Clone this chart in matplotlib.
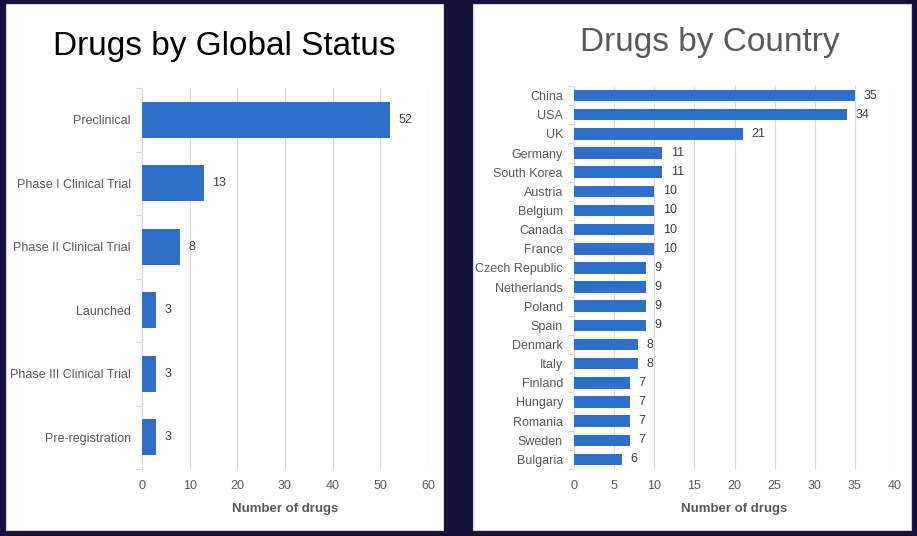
import matplotlib
matplotlib.use("Agg")
import matplotlib.pyplot as plt
from matplotlib.patches import Rectangle

plt.rcParams['font.family'] = ['Liberation Sans', 'DejaVu Sans']

# data
status_labels = ["Preclinical", "Phase I Clinical Trial", "Phase II Clinical Trial",
                 "Launched", "Phase III Clinical Trial", "Pre-registration"]
status_counts = [52, 13, 8, 3, 3, 3]

country_labels = ["China", "USA", "UK", "Germany", "South Korea", "Austria", "Belgium",
                  "Canada", "France", "Czech Republic", "Netherlands", "Poland", "Spain",
                  "Denmark", "Italy", "Finland", "Hungary", "Romania", "Sweden", "Bulgaria"]
country_counts = [35, 34, 21, 11, 11, 10, 10, 10, 10, 9, 9, 9, 9, 8, 8, 7, 7, 7, 7, 6]

bar_color = "#2E6FCB"
grid_color = "#D9D9D9"
text_color = "#595959"
W, H = 917, 536

fig = plt.figure(figsize=(W / 100, H / 100), dpi=100)
fig.patch.set_facecolor("#14113A")

# white panels (behind the axes)
for x0, x1 in [(6, 443), (473, 911)]:
    fig.patches.append(Rectangle((x0 / W, 1 - 530 / H), (x1 - x0) / W, 526 / H,
                                 transform=fig.transFigure, facecolor="white",
                                 edgecolor="#D0D0D0", lw=0.8, zorder=-5))


def draw(ax, labels, counts, xmax, step, height, lab_size):
    n = len(labels)
    y = list(range(n))
    ax.barh(y, counts, height=height, color=bar_color, zorder=3)
    ax.set_ylim(n - 0.5, -0.5)
    ax.set_xlim(0, xmax)
    ax.set_xticks(range(0, xmax + 1, step))
    ax.set_yticks(y)
    ax.set_yticklabels(labels, fontsize=lab_size, color=text_color)
    ax.tick_params(axis='x', length=0, labelsize=9, labelcolor=text_color, pad=8)
    ax.tick_params(axis='y', length=0, pad=8)
    # category boundary ticks
    ax.set_yticks([i - 0.5 for i in range(n + 1)], minor=True)
    ax.tick_params(axis='y', which='minor', length=4, color=grid_color, width=0.8)
    ax.grid(axis='x', color=grid_color, lw=0.8, zorder=0)
    for s in ['top', 'right', 'bottom']:
        ax.spines[s].set_visible(False)
    ax.spines['left'].set_color(grid_color)
    ax.spines['left'].set_linewidth(0.8)
    ax.set_facecolor("none")
    for yi, v in zip(y, counts):
        ax.annotate(str(v), (v, yi), xytext=(6, 0), textcoords='offset points',
                    va='center', ha='left', fontsize=lab_size, color="#404040")
    ax.set_xlabel("Number of drugs", fontsize=9.5, fontweight='bold',
                  color=text_color, labelpad=8)


ax1 = fig.add_axes([142 / W, 1 - 469 / H, (428 - 142) / W, (469 - 88) / H])
draw(ax1, status_labels, status_counts, 60, 10, 0.57, 9)
ax2 = fig.add_axes([574 / W, 1 - 469 / H, (895 - 574) / W, (469 - 86) / H])
draw(ax2, country_labels, country_counts, 40, 5, 0.6, 9)

fig.text(224.5 / W, 1 - 46 / H, "Drugs by Global Status", ha='center', va='center',
         fontsize=24, color="black")
fig.text(710 / W, 1 - 42 / H, "Drugs by Country", ha='center', va='center',
         fontsize=24, color=text_color)

fig.savefig("out.png", dpi=100, facecolor=fig.get_facecolor())
